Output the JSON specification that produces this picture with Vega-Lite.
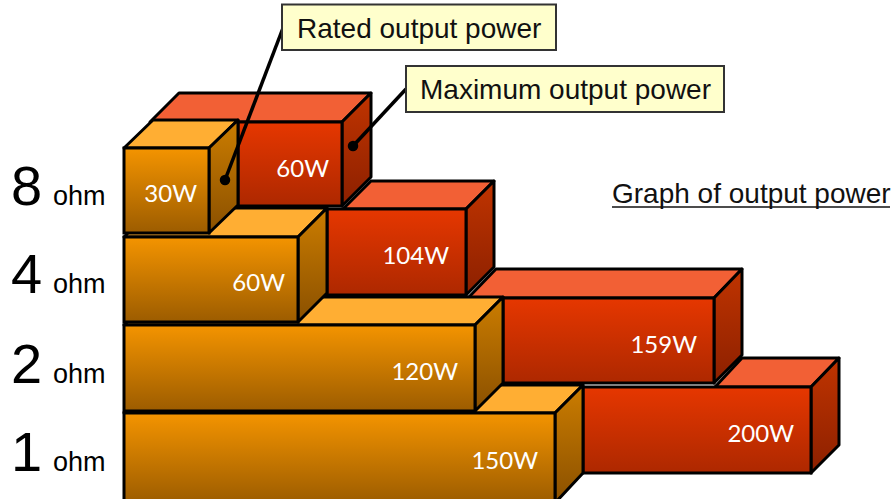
{"$schema":"https://vega.github.io/schema/vega-lite/v6.json","width":894,"height":499,"padding":0,"autosize":{"type":"fit","contains":"padding"},"background":"white","config":{"view":{"stroke":null}},
"datasets":{
"bars":[
{"ohm":1,"series":"rated","watts":150,"power":"150W","x":0,"x2":431,"y":86,"y2":-4,"labelX":414,"labelY":37},
{"ohm":2,"series":"rated","watts":120,"power":"120W","x":0,"x2":351,"y":174,"y2":88,"labelX":334,"labelY":126},
{"ohm":4,"series":"rated","watts":60,"power":"60W","x":0,"x2":174,"y":262,"y2":177,"labelX":161,"labelY":215},
{"ohm":8,"series":"rated","watts":30,"power":"30W","x":0,"x2":85,"y":351,"y2":266,"labelX":73,"labelY":304},
{"ohm":1,"series":"max","watts":200,"power":"200W","x":459,"x2":687,"y":112,"y2":26,"labelX":670,"labelY":64},
{"ohm":2,"series":"max","watts":159,"power":"159W","x":379,"x2":590,"y":201,"y2":116,"labelX":573,"labelY":153},
{"ohm":4,"series":"max","watts":104,"power":"104W","x":203,"x2":342,"y":290,"y2":204,"labelX":325,"labelY":242},
{"ohm":8,"series":"max","watts":60,"power":"60W","x":114,"x2":218,"y":377,"y2":293,"labelX":205,"labelY":329}],
"faces":[
{"id":"m1t","series":"max","face":"top","x":591,"y":112,"y2":112},{"id":"m1t","series":"max","face":"top","x":618,"y":141,"y2":112},{"id":"m1t","series":"max","face":"top","x":687,"y":141,"y2":112},{"id":"m1t","series":"max","face":"top","x":715,"y":141,"y2":141},
{"id":"m2t","series":"max","face":"top","x":344,"y":201,"y2":201},{"id":"m2t","series":"max","face":"top","x":372,"y":230,"y2":201},{"id":"m2t","series":"max","face":"top","x":590,"y":230,"y2":201},{"id":"m2t","series":"max","face":"top","x":618,"y":230,"y2":230},
{"id":"m4t","series":"max","face":"top","x":219,"y":290,"y2":290},{"id":"m4t","series":"max","face":"top","x":247,"y":318,"y2":290},{"id":"m4t","series":"max","face":"top","x":342,"y":318,"y2":290},{"id":"m4t","series":"max","face":"top","x":370,"y":318,"y2":318},
{"id":"m8t","series":"max","face":"top","x":26,"y":377,"y2":377},{"id":"m8t","series":"max","face":"top","x":55,"y":406,"y2":377},{"id":"m8t","series":"max","face":"top","x":218,"y":406,"y2":377},{"id":"m8t","series":"max","face":"top","x":247,"y":406,"y2":406},
{"id":"m1s","series":"max","face":"side","x":687,"y":112,"y2":26},{"id":"m1s","series":"max","face":"side","x":715,"y":141,"y2":54},
{"id":"m2s","series":"max","face":"side","x":590,"y":201,"y2":116},{"id":"m2s","series":"max","face":"side","x":618,"y":230,"y2":144},
{"id":"m4s","series":"max","face":"side","x":342,"y":290,"y2":204},{"id":"m4s","series":"max","face":"side","x":370,"y":318,"y2":232},
{"id":"m8s","series":"max","face":"side","x":218,"y":377,"y2":293},{"id":"m8s","series":"max","face":"side","x":247,"y":406,"y2":322},
{"id":"r1t","series":"rated","face":"top","x":0,"y":86,"y2":86},{"id":"r1t","series":"rated","face":"top","x":28,"y":114,"y2":86},{"id":"r1t","series":"rated","face":"top","x":431,"y":114,"y2":86},{"id":"r1t","series":"rated","face":"top","x":459,"y":114,"y2":114},
{"id":"r2t","series":"rated","face":"top","x":0,"y":174,"y2":174},{"id":"r2t","series":"rated","face":"top","x":28,"y":202,"y2":174},{"id":"r2t","series":"rated","face":"top","x":351,"y":202,"y2":174},{"id":"r2t","series":"rated","face":"top","x":379,"y":202,"y2":202},
{"id":"r4t","series":"rated","face":"top","x":0,"y":262,"y2":262},{"id":"r4t","series":"rated","face":"top","x":29,"y":291,"y2":262},{"id":"r4t","series":"rated","face":"top","x":174,"y":291,"y2":262},{"id":"r4t","series":"rated","face":"top","x":203,"y":291,"y2":291},
{"id":"r8t","series":"rated","face":"top","x":0,"y":351,"y2":351},{"id":"r8t","series":"rated","face":"top","x":29,"y":379,"y2":351},{"id":"r8t","series":"rated","face":"top","x":85,"y":379,"y2":351},{"id":"r8t","series":"rated","face":"top","x":114,"y":379,"y2":379},
{"id":"r1s","series":"rated","face":"side","x":431,"y":86,"y2":-4},{"id":"r1s","series":"rated","face":"side","x":459,"y":114,"y2":26},
{"id":"r2s","series":"rated","face":"side","x":351,"y":174,"y2":88},{"id":"r2s","series":"rated","face":"side","x":379,"y":202,"y2":116},
{"id":"r4s","series":"rated","face":"side","x":174,"y":262,"y2":177},{"id":"r4s","series":"rated","face":"side","x":203,"y":291,"y2":206},
{"id":"r8s","series":"rated","face":"side","x":85,"y":351,"y2":266},{"id":"r8s","series":"rated","face":"side","x":114,"y":379,"y2":294}],
"rows":[
{"ohm":"8","unit":"ohm","x":-113,"y":294,"uy":294},{"ohm":"4","unit":"ohm","x":-113,"y":206,"uy":206},{"ohm":"2","unit":"ohm","x":-113,"y":116,"uy":116},{"ohm":"1","unit":"ohm","x":-113,"y":28,"uy":28}],
"callouts":[
{"text":"Rated output power","x":158,"x2":432,"y":494.5,"y2":449,"tx":173,"ty":461,"lx":159,"ly":471,"dx":101,"dy":319},
{"text":"Maximum output power","x":282,"x2":600,"y":433,"y2":387,"tx":296,"ty":400,"lx":282,"ly":410,"dx":229,"dy":353}],
"heading":[{"text":"Graph of output power","x":488,"x2":766,"y":296,"uy":292}]},
"encoding":{"x":{"field":"x","type":"quantitative","scale":{"domain":[-124,770],"nice":false,"zero":false},"axis":null},"y":{"field":"y","type":"quantitative","scale":{"domain":[0,499],"nice":false,"zero":false},"axis":null}},
"layer":[
{"data":{"name":"faces"},"transform":[{"filter":"datum.series=='max'&&datum.face=='top'"}],"mark":{"type":"area","clip":true,"fill":"#F26035","stroke":"black","strokeWidth":3,"strokeJoin":"round"},"encoding":{"y2":{"field":"y2"},"detail":{"field":"id"}}},
{"data":{"name":"faces"},"transform":[{"filter":"datum.series=='max'&&datum.face=='side'"}],"mark":{"type":"area","clip":true,"fill":{"gradient":"linear","x1":0,"y1":0,"x2":0,"y2":1,"stops":[{"offset":0,"color":"#C03400"},{"offset":1,"color":"#8C2000"}]},"stroke":"black","strokeWidth":3,"strokeJoin":"round"},"encoding":{"y2":{"field":"y2"},"detail":{"field":"id"}}},
{"data":{"name":"bars"},"transform":[{"filter":"datum.series=='max'"}],"mark":{"type":"rect","clip":true,"fill":{"gradient":"linear","x1":0,"y1":0,"x2":0,"y2":1,"stops":[{"offset":0,"color":"#E63700"},{"offset":1,"color":"#AD2800"}]},"stroke":"black","strokeWidth":3},"encoding":{"x2":{"field":"x2"},"y2":{"field":"y2"}}},
{"data":{"name":"faces"},"transform":[{"filter":"datum.series=='rated'&&datum.face=='top'"}],"mark":{"type":"area","clip":true,"fill":"#FFAE33","stroke":"black","strokeWidth":3,"strokeJoin":"round"},"encoding":{"y2":{"field":"y2"},"detail":{"field":"id"}}},
{"data":{"name":"faces"},"transform":[{"filter":"datum.series=='rated'&&datum.face=='side'"}],"mark":{"type":"area","clip":true,"fill":{"gradient":"linear","x1":0,"y1":0,"x2":0,"y2":1,"stops":[{"offset":0,"color":"#CC7D00"},{"offset":1,"color":"#8A5000"}]},"stroke":"black","strokeWidth":3,"strokeJoin":"round"},"encoding":{"y2":{"field":"y2"},"detail":{"field":"id"}}},
{"data":{"name":"bars"},"transform":[{"filter":"datum.series=='rated'"}],"mark":{"type":"rect","clip":true,"fill":{"gradient":"linear","x1":0,"y1":0,"x2":0,"y2":1,"stops":[{"offset":0,"color":"#F49400"},{"offset":1,"color":"#9C5C00"}]},"stroke":"black","strokeWidth":3},"encoding":{"x2":{"field":"x2"},"y2":{"field":"y2"}}},
{"data":{"name":"bars"},"mark":{"type":"text","align":"right","baseline":"middle","font":"Lato","fontSize":24,"color":"#FFFFFF"},"encoding":{"x":{"field":"labelX","type":"quantitative"},"y":{"field":"labelY","type":"quantitative"},"text":{"field":"power"}}},
{"data":{"name":"rows"},"mark":{"type":"text","align":"left","baseline":"alphabetic","font":"Liberation Sans","fontSize":56,"color":"#000000"},"encoding":{"text":{"field":"ohm"}}},
{"data":{"name":"rows"},"mark":{"type":"text","align":"left","baseline":"alphabetic","font":"Liberation Sans","fontSize":27,"color":"#000000"},"encoding":{"x":{"datum":-71},"y":{"field":"uy","type":"quantitative"},"text":{"field":"unit"}}},
{"data":{"name":"callouts"},"mark":{"type":"rule","color":"#000000","strokeWidth":3.5},"encoding":{"x":{"field":"lx","type":"quantitative"},"x2":{"field":"dx"},"y":{"field":"ly","type":"quantitative"},"y2":{"field":"dy"}}},
{"data":{"name":"callouts"},"mark":{"type":"point","filled":true,"shape":"circle","size":110,"color":"#000000","opacity":1},"encoding":{"x":{"field":"dx","type":"quantitative"},"y":{"field":"dy","type":"quantitative"}}},
{"data":{"name":"callouts"},"mark":{"type":"rect","fill":"#FFFFCC","stroke":"#333333","strokeWidth":2},"encoding":{"x2":{"field":"x2"},"y2":{"field":"y2"}}},
{"data":{"name":"callouts"},"mark":{"type":"text","align":"left","baseline":"alphabetic","font":"Liberation Sans","fontSize":28,"color":"#111111"},"encoding":{"x":{"field":"tx","type":"quantitative"},"y":{"field":"ty","type":"quantitative"},"text":{"field":"text"}}},
{"data":{"name":"heading"},"mark":{"type":"text","align":"left","baseline":"alphabetic","font":"Liberation Sans","fontSize":28,"color":"#111111"},"encoding":{"text":{"field":"text"}}},
{"data":{"name":"heading"},"mark":{"type":"rule","color":"#111111","strokeWidth":1.5},"encoding":{"x2":{"field":"x2"},"y":{"field":"uy","type":"quantitative"}}}
]}
